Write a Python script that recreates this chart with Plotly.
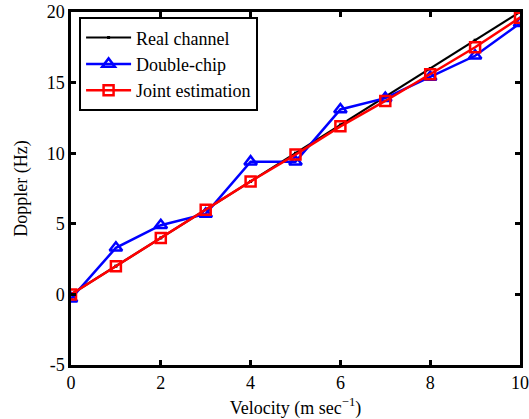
import plotly.graph_objects as go

velocity = [0, 1, 2, 3, 4, 5, 6, 7, 8, 9, 10]
real_channel = [0, 2, 4, 6, 8, 10, 12, 14, 16, 18, 20]
double_chip = [-0.3, 3.3, 4.9, 5.7, 9.4, 9.4, 13.1, 13.9, 15.4, 16.9, 19.2]
joint_est = [0.0, 2.0, 4.0, 6.0, 8.0, 9.9, 11.9, 13.7, 15.6, 17.5, 19.6]
x_ticks = [0, 2, 4, 6, 8, 10]
y_ticks = [-5, 0, 5, 10, 15, 20]
y_tick_labels = ["-5", "0", "5", "10", "15", "20"]

font = "Liberation Serif, Times New Roman, serif"

fig = go.Figure()
fig.add_trace(go.Scatter(x=velocity, y=real_channel, name="Real channel", mode="lines+markers",
                         line=dict(color="black", width=2.2),
                         marker=dict(symbol="square", size=3, color="black")))
fig.add_trace(go.Scatter(x=velocity, y=double_chip, name="Double-chip", mode="lines+markers",
                         line=dict(color="#0000ff", width=2.5),
                         marker=dict(symbol="triangle-up-open", size=11, color="#0000ff",
                                     line=dict(width=2.5, color="#0000ff"))))
fig.add_trace(go.Scatter(x=velocity, y=joint_est, name="Joint estimation", mode="lines+markers",
                         line=dict(color="#ff0000", width=2.5),
                         marker=dict(symbol="square-open", size=10, color="#ff0000",
                                     line=dict(width=2.5, color="#ff0000"))))

axis_common = dict(showline=True, linecolor="black", linewidth=2.5, mirror="ticks",
                   ticks="inside", ticklen=5, tickwidth=2.5, tickcolor="black",
                   showgrid=False, zeroline=False, automargin=False,
                   ticklabeloverflow="allow",
                   tickfont=dict(family=font, size=18, color="black"))

fig.update_xaxes(range=[0, 10], tickvals=x_ticks,
                 title=dict(text="Velocity (m sec<sup>−1</sup>)", font=dict(family=font, size=18, color="black")),
                 **axis_common)
fig.update_yaxes(range=[-5, 20], tickvals=y_ticks, ticktext=y_tick_labels,
                 title=dict(text="Doppler (Hz)", font=dict(family=font, size=18, color="black")),
                 **axis_common)

fig.update_layout(
    width=529, height=419,
    margin=dict(l=71, r=9, t=12, b=54),
    plot_bgcolor="white", paper_bgcolor="white",
    font=dict(family=font, size=18, color="black"),
    legend=dict(x=0.018, y=0.985, xanchor="left", yanchor="top",
                bgcolor="white", bordercolor="black", borderwidth=2,
                font=dict(family=font, size=18, color="black"),
                itemwidth=45, tracegroupgap=0, entrywidth=150, entrywidthmode="pixels"),
)

fig.write_html("out.html")
